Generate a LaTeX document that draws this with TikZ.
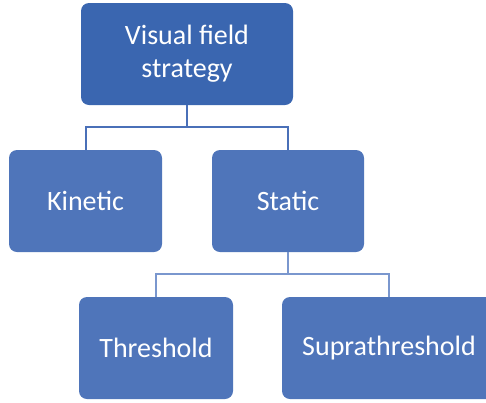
\documentclass[tikz,border=0pt]{standalone}
\usepackage{fontspec}
\setmainfont{Carlito}
\usetikzlibrary{positioning}
\definecolor{darkblue}{RGB}{58, 102, 176}
\definecolor{midblue}{RGB}{79, 117, 186}
\definecolor{linkblue}{RGB}{74, 112, 184}
\definecolor{paleblue}{RGB}{122, 151, 206}

\tikzset{
    box/.style={rectangle, rounded corners=8pt, fill=midblue, text=white,
                minimum height=102pt, inner sep=0pt, align=center,
                font=\fontsize{28}{33}\selectfont},
    link/.style={linkblue, line width=2pt},
    sublink/.style={paleblue, line width=2pt}
}

\begin{document}
\begin{tikzpicture}[x=1pt, y=-1pt]
            \useasboundingbox (0,0) rectangle (486,402);
            \node[box, fill=darkblue, minimum width=212pt] (strategy)       at (187, 54)  {Visual field\\strategy};
            \node[box, minimum width=153pt]                (kinetic)        at (85.5,201) {Kinetic};
            \node[box, minimum width=152pt]                (static)         at (288,201)  {Static};
            \node[box, minimum width=154pt]                (threshold)      at (156,348)  {Threshold};
            \node[box, minimum width=214pt]                (suprathreshold) at (389,348)  {Suprathreshold};
            \coordinate (bar1) at (187,127);
            \coordinate (bar2) at (288,274);
            \draw[link]    (strategy.south) -- (bar1) -| (kinetic.north);
            \draw[link]    (bar1) -| (static.north);
            \draw[sublink] (static.south) -- (bar2) -| (threshold.north);
            \draw[sublink] (bar2) -| (suprathreshold.north);
        \end{tikzpicture}
\end{document}
